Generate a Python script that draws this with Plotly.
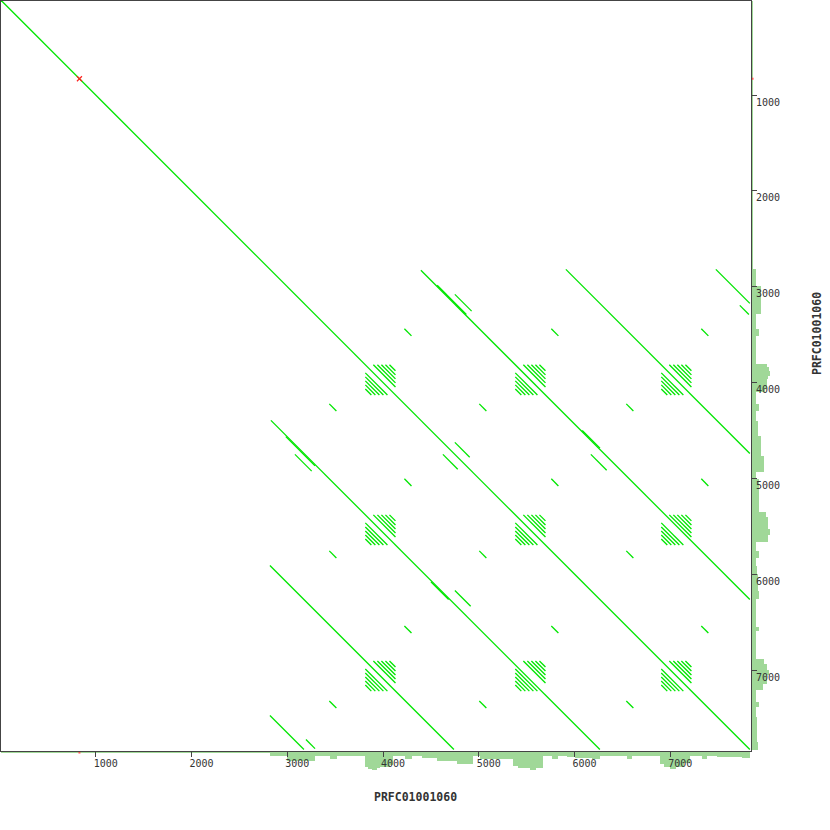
import plotly.graph_objects as go

# ---------------- data (sequence coordinates, bp) ----------------
seq_name = "PRFC01001060"
seq_len = 7830
tick_vals = [1000, 2000, 3000, 4000, 5000, 6000, 7000]
tick_text = ["1000", "2000", "3000", "4000", "5000", "6000", "7000"]

# long matching diagonals (upper triangle; mirrored below the diagonal)
long_x0 = [0, 4395, 5909, 7475]
long_y0 = [0, 2829, 2819, 2819]
long_x1 = [7830, 7830, 7830, 7830]
long_y1 = [7830, 6264, 4740, 3174]

# short extra matches (upper triangle; mirrored)
short_x0 = [4565, 4750, 4750, 6080, 6170, 7725]
short_y0 = [2985, 3080, 4625, 4500, 4750, 3195]
short_x1 = [4870, 4925, 4905, 6265, 6335, 7820]
short_y1 = [3290, 3255, 4780, 4685, 4915, 3290]

# tandem-repeat blocks (start, length, period) producing the hatched blobs
tandem_start = [3815, 5381, 6905]
tandem_len = 315
tandem_period = 42
tandem_steps = [2, 3, 4, 5, 6]

# small interspersed element copies (A copies match B copies)
elem_a = [3476, 5042, 6577]
elem_b = [4260, 5794, 7360]
elem_half = 37

# coverage histogram along the sequence (bin edges in bp, depth)
hist_edges = [0, 2819, 2996, 3289, 3445, 3518, 3811, 3842, 3884, 3936, 3967, 4072, 4103,
              4228, 4301, 4406, 4562, 4771, 4938, 5011, 5356, 5408, 5533, 5596, 5669, 5763,
              5826, 5919, 6003, 6180, 6264, 6546, 6598, 6890, 6932, 6995, 7057, 7141, 7204,
              7329, 7381, 7485, 7746, 7830]
hist_depth = [2, 5, 9.5, 5, 7.5, 5, 16, 17.5, 18.5, 17, 16, 14, 5, 7.5, 5, 6.5, 9.5, 12.5,
              5, 7.5, 15, 17, 18.5, 17, 5, 7.5, 5, 6, 7, 7.5, 5, 7.5, 5, 13, 16, 18, 16, 12,
              5, 7.5, 5, 6, 7]

red_pos = [830]

# ---------------- build segments ----------------
xs, ys = [], []


def seg(x0, y0, x1, y1, mirror=True):
    xs.extend([x0, x1, None])
    ys.extend([y0, y1, None])
    if mirror:
        xs.extend([y0, y1, None])
        ys.extend([x0, x1, None])


for i in range(len(long_x0)):
    seg(long_x0[i], long_y0[i], long_x1[i], long_y1[i], mirror=(i != 0))
for i in range(len(short_x0)):
    seg(short_x0[i], short_y0[i], short_x1[i], short_y1[i])
for a in elem_a:
    for b in elem_b:
        seg(b - elem_half, a - elem_half, b + elem_half, a + elem_half)
for ai in tandem_start:
    for aj in tandem_start:
        for k in tandem_steps:
            for d in (k * tandem_period, -k * tandem_period):
                t0 = max(0, -d)
                t1 = min(tandem_len, tandem_len - d)
                seg(ai + t0 + d, aj + t0, ai + t1 + d, aj + t1, mirror=False)

hist_center = [(hist_edges[i] + hist_edges[i + 1]) / 2 for i in range(len(hist_depth))]
hist_width = [hist_edges[i + 1] - hist_edges[i] for i in range(len(hist_depth))]

# ---------------- figure ----------------
W = H = 830
FONT = "DejaVu Sans Mono"
AX = "#444444"
TXT = "#333333"
GREEN = "#00e600"
HIST = "#a0d898"

fig = go.Figure()
# strips first (subplots xy2 / x2y), main plot x2y2 drawn last so its ticks sit on top
fig.add_trace(go.Bar(x=hist_center, y=hist_depth, width=hist_width, xaxis="x2", yaxis="y",
                     marker=dict(color=HIST, line=dict(width=0)), hoverinfo="skip"))
fig.add_trace(go.Bar(y=hist_center, x=hist_depth, width=hist_width, orientation="h",
                     xaxis="x", yaxis="y2",
                     marker=dict(color=HIST, line=dict(width=0)), hoverinfo="skip"))
fig.add_trace(go.Scatter(x=red_pos, y=[1.5], mode="markers", xaxis="x2", yaxis="y",
                         marker=dict(symbol="square", size=2, color="#ff5050"), hoverinfo="skip"))
fig.add_trace(go.Scatter(x=[1.5], y=red_pos, mode="markers", xaxis="x", yaxis="y2",
                         marker=dict(symbol="square", size=2, color="#ff5050"), hoverinfo="skip"))
fig.add_trace(go.Scatter(x=xs, y=ys, mode="lines", xaxis="x2", yaxis="y2",
                         line=dict(color=GREEN, width=1.3), hoverinfo="skip", connectgaps=False))
fig.add_trace(go.Scatter(x=red_pos, y=red_pos, mode="markers", xaxis="x2", yaxis="y2",
                         marker=dict(symbol="x-thin", size=5, color="#ff2020",
                                     line=dict(color="#ff2020", width=1.2)), hoverinfo="skip"))

common = dict(showline=True, mirror=True, linecolor=AX, linewidth=1, ticks="outside",
              ticklen=5, tickcolor=AX, tickwidth=1, showgrid=False, zeroline=False,
              tickfont=dict(family=FONT, size=10, color=TXT),
              tickvals=tick_vals, ticktext=tick_text)

fig.update_layout(
    template="none",
    width=W, height=H, margin=dict(l=0, r=0, t=0, b=0),
    paper_bgcolor="white", plot_bgcolor="white", showlegend=False, bargap=0,
    xaxis2=dict(domain=[1 / W, 751 / W], range=[11, 7842], anchor="y2",
                ticklabelshift=10, ticklabelstandoff=-2, **common),
    yaxis2=dict(domain=[1 - 751 / H, 1 - 1 / H], range=[7845, 19], anchor="x2", side="right",
                ticklabelshift=-7, ticklabelstandoff=-3, **common),
    yaxis=dict(domain=[1 - 773 / H, 1 - 751 / H], range=[22, 0], anchor="x2",
               visible=False),
    xaxis=dict(domain=[751 / W, 773 / W], range=[0, 22], anchor="y2", visible=False),
    annotations=[
        dict(text="<b>%s</b>" % seq_name, xref="paper", yref="paper", x=0.5,
             y=1 - 797 / H, xanchor="center", yanchor="middle", showarrow=False,
             font=dict(family=FONT, size=11.5, color=TXT)),
        dict(text="<b>%s</b>" % seq_name, xref="paper", yref="paper", x=817 / W,
             y=1 - 334 / H, xanchor="center", yanchor="middle", showarrow=False,
             textangle=-90, font=dict(family=FONT, size=11.5, color=TXT)),
    ],
)

fig.write_html("out.html", config={"displayModeBar": False},
               post_script="document.body.style.margin='0px';")
